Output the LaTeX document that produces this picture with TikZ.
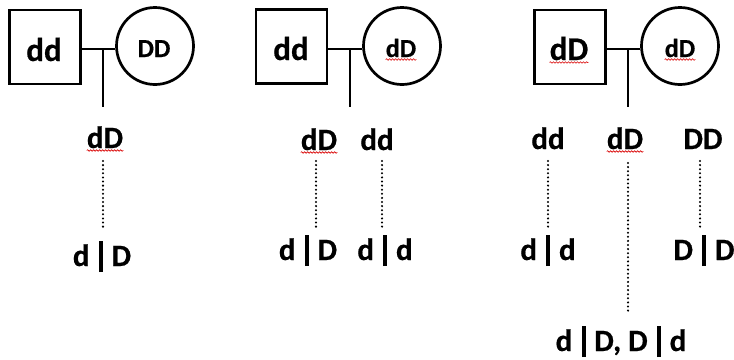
\documentclass[tikz,border=0pt]{standalone}
\usepackage{fontspec}
\setmainfont{Carlito}[BoldFeatures={FakeBold=0.6}]
\usetikzlibrary{decorations.pathmorphing}
% heavy separator bar used inside the genotype labels
\newcommand\gbar{\kern9.3pt\rule[-6pt]{3.9pt}{31pt}\kern8.8pt}
\begin{document}
\begin{tikzpicture}[x=1pt,y=-1pt,
  male/.style={draw,line width=2.7pt,minimum width=71pt,minimum height=74pt,inner sep=0},
  female/.style={draw,circle,line width=2.7pt,minimum size=77pt,inner sep=0},
  bigtxt/.style={font=\fontsize{33}{33}\selectfont\bfseries,inner sep=0,anchor=base},
  smalltxt/.style={font=\fontsize{26}{26}\selectfont\bfseries,inner sep=0,anchor=base},
  geno/.style={font=\fontsize{31}{31}\selectfont\bfseries,inner sep=0,anchor=base},
  link/.style={line width=2.7pt},
  dots/.style={line width=2.3pt,line cap=round,dash pattern=on 0pt off 4.1pt},
  squiggle/.style={red!85!black,line width=0.6pt,decorate,
    decoration={snake,amplitude=0.8pt,segment length=3pt}}]
\useasboundingbox (0,0) rectangle (734,359);

% --- first cross: dd x DD ---
\node[male] (m1) at (45,47) {};
\node[female] (f1) at (155,46) {};
\node[bigtxt] (m1t) at (44,61) {dd};
\node[smalltxt] (f1t) at (154,57) {DD};
\coordinate (j1) at (103,49);
\coordinate (k1) at (103,107);
\draw[link] (m1.east |- j1) -- (j1 -| f1.west);
\draw[link] (j1) -- (k1);
\node[geno] (c1a) at (105,148) {dD};
\node[geno] (g1a) at (102,266) {d\gbar D};
\coordinate (v1a) at (103,161);
\coordinate (w1a) at (103,227);
\draw[dots] (v1a) -- (w1a);

% --- second cross: dd x dD ---
\node[male] (m2) at (291.5,46.5) {};
\node[female] (f2) at (402,46) {};
\node[bigtxt] (m2t) at (291,60) {dd};
\node[smalltxt] (f2t) at (401,57) {dD};
\coordinate (j2) at (350,49);
\coordinate (k2) at (350,107);
\draw[link] (m2.east |- j2) -- (j2 -| f2.west);
\draw[link] (j2) -- (k2);
\node[geno] (c2a) at (319,150) {dD};
\node[geno] (c2b) at (377,150) {dd};
\node[geno] (g2a) at (308,260) {d\gbar D};
\node[geno] (g2b) at (385,260) {d\gbar d};
\coordinate (v2a) at (316,161);
\coordinate (w2a) at (316,227);
\coordinate (v2b) at (382,161);
\coordinate (w2b) at (382,227);
\draw[dots] (v2a) -- (w2a);
\draw[dots] (v2b) -- (w2b);

% --- third cross: dD x dD ---
\node[male] (m3) at (570,47) {};
\node[female] (f3) at (680,46) {};
\node[bigtxt] (m3t) at (569,60) {dD};
\node[smalltxt] (f3t) at (680,57) {dD};
\coordinate (j3) at (628,49);
\coordinate (k3) at (628,107);
\draw[link] (m3.east |- j3) -- (j3 -| f3.west);
\draw[link] (j3) -- (k3);
\node[geno] (c3a) at (548,149) {dd};
\node[geno] (c3b) at (625,149) {dD};
\node[geno] (c3c) at (703,149) {DD};
\node[geno] (g3a) at (548,260) {d\gbar d};
\node[geno] (g3b) at (621,351) {d\gbar D, D\gbar d};
\node[geno] (g3c) at (704,260) {D\gbar D};
\coordinate (v3a) at (548,161);
\coordinate (w3a) at (548,227);
\coordinate (v3b) at (628,163);
\coordinate (w3b) at (628,312);
\coordinate (v3c) at (700,161);
\coordinate (w3c) at (700,227);
\draw[dots] (v3a) -- (w3a);
\draw[dots] (v3b) -- (w3b);
\draw[dots] (v3c) -- (w3c);

% spell-check marks under the mixed genotypes
\foreach \n in {c1a,f2t,c2a,m3t,f3t,c3b}
  \draw[squiggle] ([yshift=-2.5pt]\n.base west) -- ([yshift=-2.5pt]\n.base east);
\end{tikzpicture}
\end{document}
